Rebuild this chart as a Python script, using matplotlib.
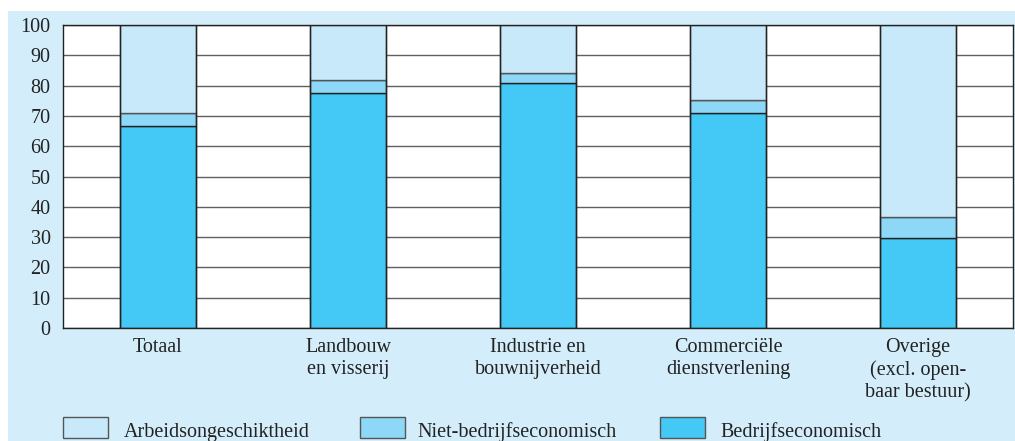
import matplotlib.pyplot as plt
from matplotlib.patches import Rectangle

# data (percentages)
categories = ['Totaal', 'Landbouw\nen visserij', 'Industrie en\nbouwnijverheid',
              'Commerciële\ndienstverlening', 'Overige\n(excl. open-\nbaar bestuur)']
bedrijfs = [66.7, 77.5, 81.0, 70.8, 29.8]
niet_bedrijfs = [4.4, 4.2, 3.2, 4.4, 6.9]
arbeids = [28.9, 18.3, 15.8, 24.8, 63.3]
series_names = ['Arbeidsongeschiktheid', 'Niet-bedrijfseconomisch', 'Bedrijfseconomisch']

c_light = '#c8e9f9'
c_mid = '#8dd7f7'
c_dark = '#44c8f5'
bg = '#d3eefa'

plt.rcParams['font.family'] = ['Liberation Serif', 'DejaVu Serif']
FS = 14.5

W, H = 1015, 441
fig = plt.figure(figsize=(W / 100, H / 100), dpi=100)

# light blue panel behind everything
fig.patches.append(Rectangle((8 / W, 0), 1 - 8 / W, (H - 11) / H,
                             transform=fig.transFigure, facecolor=bg,
                             edgecolor='none', zorder=-10))

ax = fig.add_axes([63 / W, (H - 328) / H, 950 / W, 303 / H])
ax.set_facecolor('white')

x = range(len(categories))
bottom2 = [a + b for a, b in zip(bedrijfs, niet_bedrijfs)]
ax.bar(x, bedrijfs, width=0.395, color=c_dark, edgecolor='#222222', linewidth=1, zorder=3)
ax.bar(x, niet_bedrijfs, bottom=bedrijfs, width=0.395, color=c_mid,
       edgecolor='#222222', linewidth=1, zorder=3)
ax.bar(x, arbeids, bottom=bottom2, width=0.395, color=c_light,
       edgecolor='#555555', linewidth=1, zorder=3)
# keep the outline of the bars dark
for i in x:
    ax.bar(i, 100, width=0.395, fill=False, edgecolor='#222222', linewidth=1, zorder=4)

ax.set_xlim(-0.5, 4.5)
ax.set_ylim(0, 100)
ax.set_yticks(range(0, 101, 10))
ax.yaxis.grid(True, color='#606060', linewidth=1)
ax.set_axisbelow(True)
ax.tick_params(axis='both', length=0, labelsize=FS, colors='#222222', pad=9)
ax.tick_params(axis='x', pad=7)
ax.set_xticks(list(x))
ax.set_xticklabels(categories, linespacing=1.25)
for s in ax.spines.values():
    s.set_color('#222222')
    s.set_linewidth(1)

# legend drawn below the axes
leg_colors = [c_light, c_mid, c_dark]
box_x = [63, 360, 660]
text_x = [124, 417, 720]
for name, col, bx, tx in zip(series_names, leg_colors, box_x, text_x):
    fig.patches.append(Rectangle((bx / W, (H - 438) / H), 45 / W, 21 / H,
                                 transform=fig.transFigure, facecolor=col,
                                 edgecolor='#555555', linewidth=1, zorder=2))
    fig.text(tx / W, (H - 432) / H, name, fontsize=FS, color='#222222',
             va='center', ha='left')

fig.savefig('out.png', dpi=100)
